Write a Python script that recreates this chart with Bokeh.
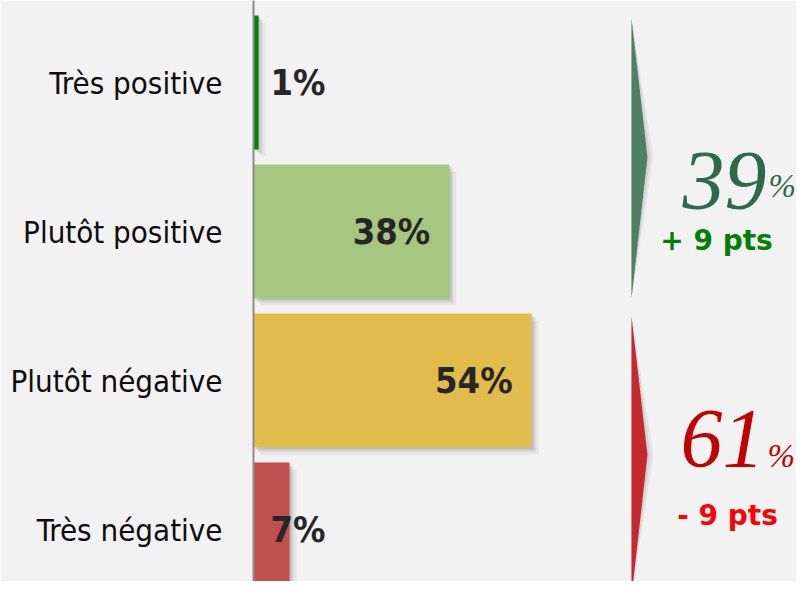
from bokeh.plotting import figure
from bokeh.models import Range1d, FixedTicker, ColumnDataSource
from bokeh.core.properties import value
from bokeh.embed import file_html
from bokeh.resources import INLINE

# ---------------- data ----------------
categories = ["Très positive", "Plutôt positive", "Plutôt négative", "Très négative"]
values = [1, 38, 54, 7]
bar_colors = ["#008000", "#A5C77F", "#E1BC4D", "#C0504D"]

group_rows = [[0, 1], [2, 3]]          # rows summed into each group
group_changes = ["+ 9 pts", "- 9 pts"]
group_num_colors = ["#2D6A4A", "#C00000"]
group_change_colors = ["#008000", "#FF0000"]
group_arrow_colors = ["#4F7F65", "#C3292E"]

# ---------------- layout (pixels) ----------------
W, H = 796, 581
AXIS_PX = 253
PX_PER_PCT = 5.15
ROW_PX = 149
TOP_CENTER_PX = 82

n = len(categories)
ypos = [n - i for i in range(n)]
y_end = n + TOP_CENTER_PX / ROW_PX
y_start = y_end - H / ROW_PX
x_end = (W - AXIS_PX) / PX_PER_PCT


def dx(px):
    return (px - AXIS_PX) / PX_PER_PCT


def dy(py):
    return y_end - py / ROW_PX


p = figure(width=W, height=H, x_range=Range1d(0, x_end), y_range=Range1d(y_start, y_end),
           output_backend="svg", toolbar_location=None,
           min_border_left=AXIS_PX, min_border_right=0, min_border_top=0, min_border_bottom=0,
           background_fill_color="#F2F2F2", border_fill_color="#F2F2F2", outline_line_color=None)

p.xaxis.visible = False
p.xgrid.grid_line_color = None
p.ygrid.grid_line_color = None

yax = p.yaxis[0]
yax.ticker = FixedTicker(ticks=ypos)
yax.major_label_overrides = {y: c for y, c in zip(ypos, categories)}
yax.major_tick_line_color = None
yax.minor_tick_line_color = None
yax.major_tick_out = 0
yax.major_tick_in = 0
yax.minor_tick_out = 0
yax.major_label_standoff = 31
yax.major_label_text_font = "DejaVu Sans Condensed"
yax.major_label_text_font_size = "31px"
yax.major_label_text_color = "#0D0D0D"
yax.axis_line_color = "#8C8C8C"
yax.axis_line_width = 2

src = ColumnDataSource(dict(y=ypos, v=values, c=bar_colors, cat=categories,
                            lab=[f"{v}%" for v in values]))

# soft shadows
for k, a in [(2, 0.10), (4, 0.08), (7, 0.05)]:
    p.hbar(y=[y - k / ROW_PX for y in ypos], left=[k / PX_PER_PCT] * n,
           right=[v + k / PX_PER_PCT for v in values], height=0.9,
           fill_color="#000000", fill_alpha=a, line_color=None)

p.hbar(y="y", left=0, right="v", height=0.9, fill_color="c", line_color=None, source=src)

# value labels
big = ColumnDataSource(dict(y=[y for y, v in zip(ypos, values) if v >= 10],
                            v=[v for v in values if v >= 10],
                            lab=[f"{v}%" for v in values if v >= 10]))
small = ColumnDataSource(dict(y=[y for y, v in zip(ypos, values) if v < 10],
                              v=[0 for v in values if v < 10],
                              lab=[f"{v}%" for v in values if v < 10]))
common = dict(text="lab", text_font=value("DejaVu Sans Condensed"), text_font_style="bold",
              text_font_size="36px", text_color="#262626", text_baseline="middle")
p.text(x="v", y="y", x_offset=-19, text_align="right", source=big, **common)
p.text(x="v", y="y", x_offset=17, text_align="left", source=small, **common)

# group arrows and totals
ARROW_X = dx(631)
TIP_W = 16 / PX_PER_PCT
num_right_px = [766, 764]
num_base_px = [180, 438]
pct_left_px = [768, 767]
pct_base_px = [185, 455]
chg_center_px = [716, 727]
chg_base_px = [240, 515]

for g, rows in enumerate(group_rows):
    total = sum(values[r] for r in rows)
    top = ypos[rows[0]] + 0.43
    bot = ypos[rows[-1]] - 0.45
    mid = (ypos[rows[0]] + ypos[rows[-1]]) / 2
    for k, a in [(3, 0.08), (6, 0.05)]:
        p.patch([ARROW_X, ARROW_X + TIP_W + k / PX_PER_PCT, ARROW_X],
                [top, mid, bot], fill_color="#000000", fill_alpha=a, line_color=None)
    p.patch([ARROW_X, ARROW_X + TIP_W, ARROW_X], [top, mid, bot],
            fill_color=group_arrow_colors[g], line_color=None)
    p.text(x=[dx(num_right_px[g])], y=[dy(num_base_px[g])], text=[str(total)],
           text_font=value("Liberation Serif"), text_font_style="italic",
           text_font_size="84px", text_color=group_num_colors[g],
           text_align="right", text_baseline="alphabetic")
    p.text(x=[dx(pct_left_px[g])], y=[dy(pct_base_px[g])], text=["%"],
           text_font=value("Liberation Serif"), text_font_style="italic",
           text_font_size="33px", text_color=group_num_colors[g],
           text_align="left", text_baseline="alphabetic")
    p.text(x=[dx(chg_center_px[g])], y=[dy(chg_base_px[g])], text=[group_changes[g]],
           text_font=value("DejaVu Sans"), text_font_style="bold",
           text_font_size="28px", text_color=group_change_colors[g],
           text_align="center", text_baseline="alphabetic")

open("out.html", "w").write(file_html(p, INLINE))
